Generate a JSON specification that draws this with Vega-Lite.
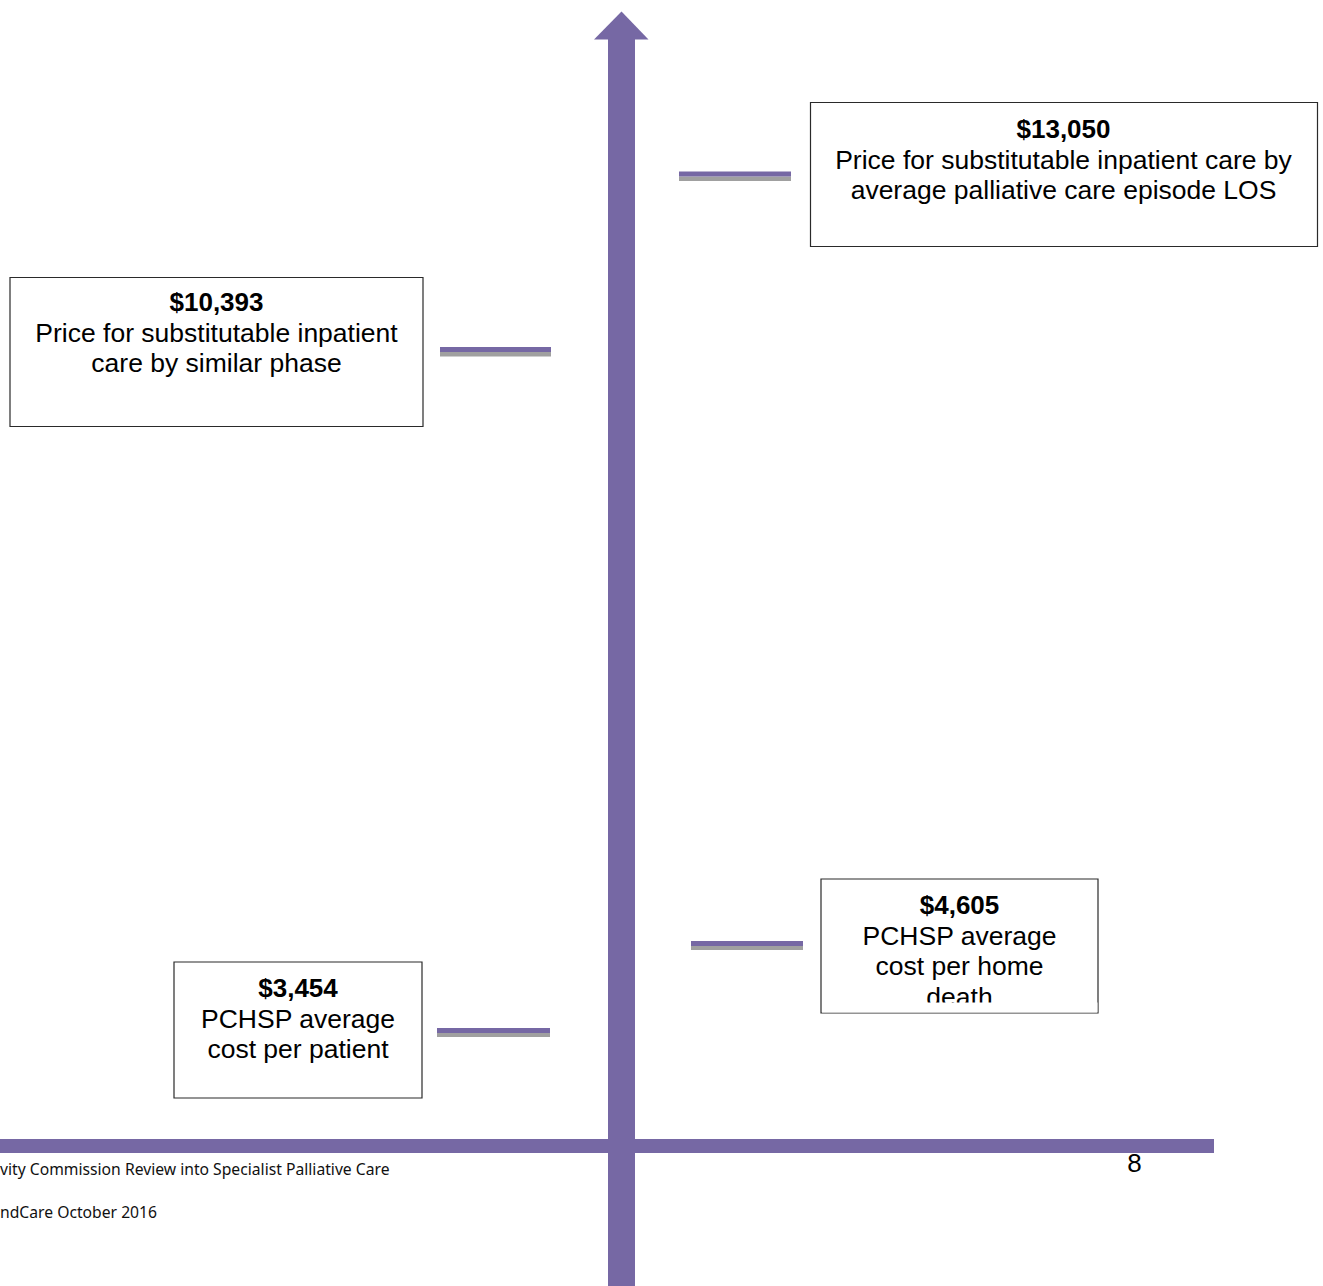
{
  "$schema": "https://vega.github.io/schema/vega-lite/v6.json",
  "width": 1323,
  "height": 1286,
  "autosize": {"type": "fit", "contains": "padding"},
  "padding": 0,
  "background": "white",
  "config": {"view": {"stroke": null}},
  "datasets": {
    "shapes": [
      {"x": 608, "x2": 635, "y": 38.5, "y2": 1286, "k": "purple"},
      {"x": 0, "x2": 1214, "y": 1139, "y2": 1153, "k": "purple"},
      {"x": 679, "x2": 791, "y": 176.5, "y2": 181, "k": "gray"},
      {"x": 679, "x2": 791, "y": 171.5, "y2": 176.5, "k": "purple"},
      {"x": 440, "x2": 551, "y": 352, "y2": 356.5, "k": "gray"},
      {"x": 440, "x2": 551, "y": 347, "y2": 352, "k": "purple"},
      {"x": 691, "x2": 803, "y": 946, "y2": 950, "k": "gray"},
      {"x": 691, "x2": 803, "y": 941, "y2": 946, "k": "purple"},
      {"x": 437, "x2": 550, "y": 1033, "y2": 1037, "k": "gray"},
      {"x": 437, "x2": 550, "y": 1028, "y2": 1033, "k": "purple"}
    ],
    "arrowhead": [
      {"x": 594, "y": 39.5, "yb": 39.5},
      {"x": 621.5, "y": 11.5, "yb": 39.5},
      {"x": 648.5, "y": 39.5, "yb": 39.5}
    ],
    "boxes": [
      {"x": 810.5, "x2": 1317.5, "y": 102.5, "y2": 246.5},
      {"x": 10, "x2": 423, "y": 277.5, "y2": 426.5},
      {"x": 821, "x2": 1098, "y": 879, "y2": 1013},
      {"x": 174, "x2": 422, "y": 962, "y2": 1098}
    ],
    "mask": [
      {"x": 822, "x2": 1097.5, "y": 1002.5, "y2": 1012.5}
    ],
    "values": [
      {"x": 1063.5, "y": 138, "t": "$13,050"},
      {"x": 216.5, "y": 311, "t": "$10,393"},
      {"x": 959.5, "y": 914, "t": "$4,605"},
      {"x": 298, "y": 997, "t": "$3,454"}
    ],
    "labels": [
      {"x": 1063.5, "y": 169, "t": "Price for substitutable inpatient care by"},
      {"x": 1063.5, "y": 199, "t": "average palliative care episode LOS"},
      {"x": 216.5, "y": 342, "t": "Price for substitutable inpatient"},
      {"x": 216.5, "y": 372, "t": "care by similar phase"},
      {"x": 959.5, "y": 945, "t": "PCHSP average"},
      {"x": 959.5, "y": 975, "t": "cost per home"},
      {"x": 959.5, "y": 1006, "t": "death"},
      {"x": 298, "y": 1028, "t": "PCHSP average"},
      {"x": 298, "y": 1058, "t": "cost per patient"}
    ],
    "page": [
      {"x": 1134.5, "y": 1172, "t": "8"}
    ],
    "footer": [
      {"x": 0, "y": 1175, "t": "vity Commission Review into Specialist Palliative Care"},
      {"x": 0, "y": 1218, "t": "ndCare October 2016"}
    ]
  },
  "layer": [
    {
      "data": {"name": "boxes"},
      "mark": {"type": "rect", "fill": "white", "stroke": "#2a2a2a", "strokeWidth": 1.2},
      "encoding": {
        "x": {"field": "x", "type": "quantitative", "scale": {"domain": [0, 1323], "nice": false, "zero": false}, "axis": null},
        "x2": {"field": "x2"},
        "y": {"field": "y", "type": "quantitative", "scale": {"domain": [0, 1286], "nice": false, "zero": false, "reverse": true}, "axis": null},
        "y2": {"field": "y2"}
      }
    },
    {
      "data": {"name": "shapes"},
      "mark": {"type": "rect"},
      "encoding": {
        "x": {"field": "x", "type": "quantitative", "scale": {"domain": [0, 1323], "nice": false, "zero": false}, "axis": null},
        "x2": {"field": "x2"},
        "y": {"field": "y", "type": "quantitative", "scale": {"domain": [0, 1286], "nice": false, "zero": false, "reverse": true}, "axis": null},
        "y2": {"field": "y2"},
        "color": {"field": "k", "type": "nominal", "scale": {"domain": ["purple", "gray"], "range": ["#7668a4", "#a0a0a0"]}, "legend": null}
      }
    },
    {
      "data": {"name": "arrowhead"},
      "mark": {"type": "area", "color": "#7668a4"},
      "encoding": {
        "x": {"field": "x", "type": "quantitative", "scale": {"domain": [0, 1323], "nice": false, "zero": false}, "axis": null},
        "y": {"field": "y", "type": "quantitative", "scale": {"domain": [0, 1286], "nice": false, "zero": false, "reverse": true}, "axis": null},
        "y2": {"field": "yb"}
      }
    },
    {
      "data": {"name": "values"},
      "mark": {"type": "text", "font": "Liberation Sans", "fontSize": 26, "fontWeight": "bold", "align": "center", "baseline": "alphabetic", "color": "black"},
      "encoding": {
        "x": {"field": "x", "type": "quantitative", "scale": {"domain": [0, 1323], "nice": false, "zero": false}, "axis": null},
        "y": {"field": "y", "type": "quantitative", "scale": {"domain": [0, 1286], "nice": false, "zero": false, "reverse": true}, "axis": null},
        "text": {"field": "t"}
      }
    },
    {
      "data": {"name": "labels"},
      "mark": {"type": "text", "font": "Liberation Sans", "fontSize": 26.5, "align": "center", "baseline": "alphabetic", "color": "black"},
      "encoding": {
        "x": {"field": "x", "type": "quantitative", "scale": {"domain": [0, 1323], "nice": false, "zero": false}, "axis": null},
        "y": {"field": "y", "type": "quantitative", "scale": {"domain": [0, 1286], "nice": false, "zero": false, "reverse": true}, "axis": null},
        "text": {"field": "t"}
      }
    },
    {
      "data": {"name": "page"},
      "mark": {"type": "text", "font": "Liberation Sans", "fontSize": 26, "align": "center", "baseline": "alphabetic", "color": "black"},
      "encoding": {
        "x": {"field": "x", "type": "quantitative", "scale": {"domain": [0, 1323], "nice": false, "zero": false}, "axis": null},
        "y": {"field": "y", "type": "quantitative", "scale": {"domain": [0, 1286], "nice": false, "zero": false, "reverse": true}, "axis": null},
        "text": {"field": "t"}
      }
    },
    {
      "data": {"name": "mask"},
      "mark": {"type": "rect", "fill": "white"},
      "encoding": {
        "x": {"field": "x", "type": "quantitative", "scale": {"domain": [0, 1323], "nice": false, "zero": false}, "axis": null},
        "x2": {"field": "x2"},
        "y": {"field": "y", "type": "quantitative", "scale": {"domain": [0, 1286], "nice": false, "zero": false, "reverse": true}, "axis": null},
        "y2": {"field": "y2"}
      }
    },
    {
      "data": {"name": "footer"},
      "mark": {"type": "text", "font": "Noto Sans", "fontSize": 15.7, "align": "left", "baseline": "alphabetic", "color": "#111111"},
      "encoding": {
        "x": {"field": "x", "type": "quantitative", "scale": {"domain": [0, 1323], "nice": false, "zero": false}, "axis": null},
        "y": {"field": "y", "type": "quantitative", "scale": {"domain": [0, 1286], "nice": false, "zero": false, "reverse": true}, "axis": null},
        "text": {"field": "t"}
      }
    }
  ]
}
